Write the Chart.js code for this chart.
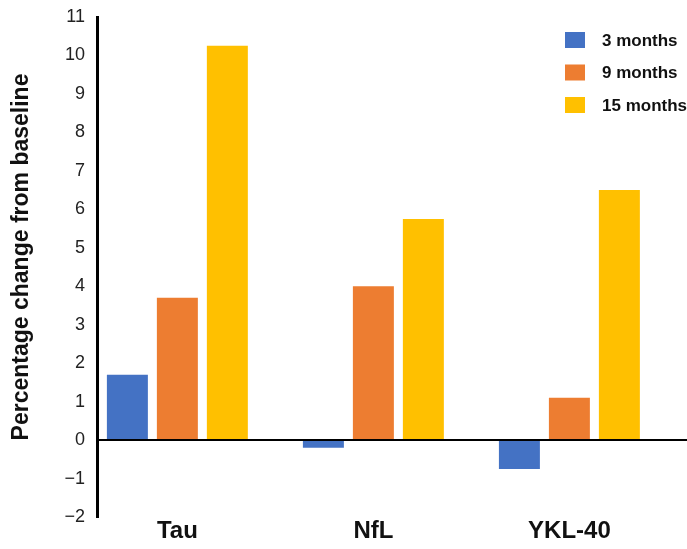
<!DOCTYPE html>
<html>
<head>
<meta charset="utf-8">
<script src="https://cdn.jsdelivr.net/npm/chart.js@4/dist/chart.umd.min.js"></script>
<style>
  html, body { margin: 0; padding: 0; background: #fff; }
  #wrap { width: 687px; height: 549px; position: relative; }
</style>
</head>
<body>
<div id="wrap"><canvas id="c"></canvas></div>
<script>
const categories = ["Tau", "NfL", "YKL-40"];
const seriesNames = ["3 months", "9 months", "15 months"];
const months3 = [1.7, -0.2, -0.75];
const months9 = [3.7, 4.0, 1.1];
const months15 = [10.25, 5.75, 6.5];
const yTicks = [-2, -1, 0, 1, 2, 3, 4, 5, 6, 7, 8, 9, 10, 11];
const yTitle = "Percentage change from baseline";
const colors = ["#4472C4", "#ED7D31", "#FFC000"];

const FONT = "'Liberation Sans', Arial, sans-serif";

function toPoints(values) {
  return values.map((v, i) => ({ x: i, y: v }));
}

// legend in the top-right corner of the plot area, y title a bit above centre
const decorations = {
  id: "decorations",
  afterDraw(chart) {
    const ctx = chart.ctx;
    const area = chart.chartArea;
    const x0 = area.right - 122;
    let y0 = area.top + 15;
    ctx.save();
    ctx.font = "bold 17px " + FONT;
    ctx.textBaseline = "middle";
    chart.data.datasets.forEach((ds) => {
      ctx.fillStyle = ds.backgroundColor;
      ctx.fillRect(x0, y0, 20, 16);
      ctx.fillStyle = "#111";
      ctx.fillText(ds.label, x0 + 37, y0 + 9);
      y0 += 32.5;
    });
    ctx.restore();

    ctx.save();
    ctx.translate(22, area.top + 240);
    ctx.rotate(-Math.PI / 2);
    ctx.font = "bold 23px " + FONT;
    ctx.textAlign = "center";
    ctx.textBaseline = "middle";
    ctx.fillStyle = "#111";
    ctx.fillText(yTitle, 0, 0);
    ctx.restore();
  },
};

new Chart(document.getElementById("c"), {
  type: "bar",
  data: {
    datasets: [
      { label: seriesNames[0], data: toPoints(months3), backgroundColor: colors[0] },
      { label: seriesNames[1], data: toPoints(months9), backgroundColor: colors[1] },
      { label: seriesNames[2], data: toPoints(months15), backgroundColor: colors[2] },
    ],
  },
  options: {
    responsive: true,
    maintainAspectRatio: false,
    animation: false,
    layout: { padding: { top: 0, right: 0, bottom: 0, left: 0 } },
    datasets: { bar: { categoryPercentage: 0.765, barPercentage: 0.82 } },
    scales: {
      x: {
        type: "linear",
        offset: false,
        min: -0.41,
        max: 2.6,
        afterBuildTicks: (s) => {
          s.ticks = categories.map((_, i) => ({ value: i }));
        },
        afterFit: (s) => {
          s.height = 32;
        },
        grid: { display: false, offset: false },
        border: { display: false },
        ticks: {
          padding: -8,
          color: "#111",
          font: { family: FONT, size: 24, weight: "bold" },
          callback: (v) => categories[v],
        },
      },
      y: {
        min: -2,
        max: 11,
        afterBuildTicks: (s) => {
          s.ticks = yTicks.map((v) => ({ value: v }));
        },
        afterFit: (s) => {
          s.width = 97;
          s.paddingTop = 17;
        },
        border: { display: true, color: "#000", width: 3 },
        grid: {
          drawTicks: false,
          color: (c) => (c.tick && c.tick.value === 0 ? "#000" : "rgba(0,0,0,0)"),
          lineWidth: 2,
        },
        ticks: {
          padding: 12,
          color: "#222",
          font: { family: FONT, size: 18, lineHeight: 1 },
          callback: (v) => (v < 0 ? "\u2212" + Math.abs(v) : String(v)),
        },
      },
    },
    plugins: {
      legend: { display: false },
      tooltip: { enabled: false },
    },
  },
  plugins: [decorations],
});
</script>
</body>
</html>
